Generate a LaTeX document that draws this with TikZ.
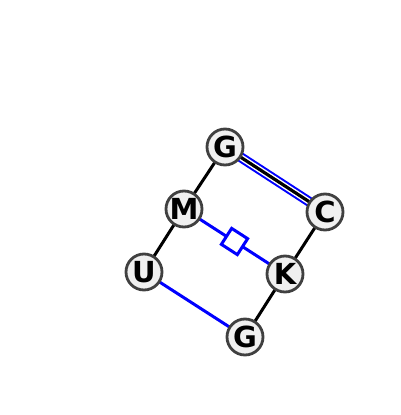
\documentclass[tikz,border=0pt]{standalone}
\usepackage{fontspec}
\setmainfont{DejaVu Sans}
\usetikzlibrary{calc}
\begin{document}
\begin{tikzpicture}[x=1pt,y=-1pt,
  nt/.style={circle,draw=black!75,line width=2.8pt,fill=black!6,minimum size=36pt,inner sep=0pt,font=\bfseries\fontsize{29}{29}\selectfont},
  bk/.style={line width=3pt,black},
  bl/.style={line width=3pt,blue}]
\useasboundingbox (0,0) rectangle (400,415);
\coordinate (Gp) at (225,147);
\coordinate (Cp) at (325,212);
\coordinate (Mp) at (184,209);
\coordinate (Kp) at (285,274);
\coordinate (Up) at (144,272);
\coordinate (G2p) at (245,337);
\draw[bk] (Gp) -- (Mp);
\draw[bk] (Mp) -- (Up);
\draw[bk] (Cp) -- (Kp);
\draw[bk] (Kp) -- (G2p);
\draw[blue,line width=10pt] (Gp) -- (Cp);
\draw[white,line width=6pt] (Gp) -- (Cp);
\draw[black,line width=3.2pt] (Gp) -- (Cp);
\draw[bl] (Mp) -- (Kp);
\draw[bl] (Up) -- (G2p);
\node[draw=blue,line width=3pt,fill=white,minimum size=19pt,inner sep=0pt,rotate=-32.8] (sq) at ($(Mp)!0.5!(Kp)$) {};
\node[nt] (G) at (Gp) {G};
\node[nt] (C) at (Cp) {C};
\node[nt] (M) at (Mp) {M};
\node[nt] (K) at (Kp) {K};
\node[nt] (U) at (Up) {U};
\node[nt] (G2) at (G2p) {G};
\end{tikzpicture}
\end{document}
